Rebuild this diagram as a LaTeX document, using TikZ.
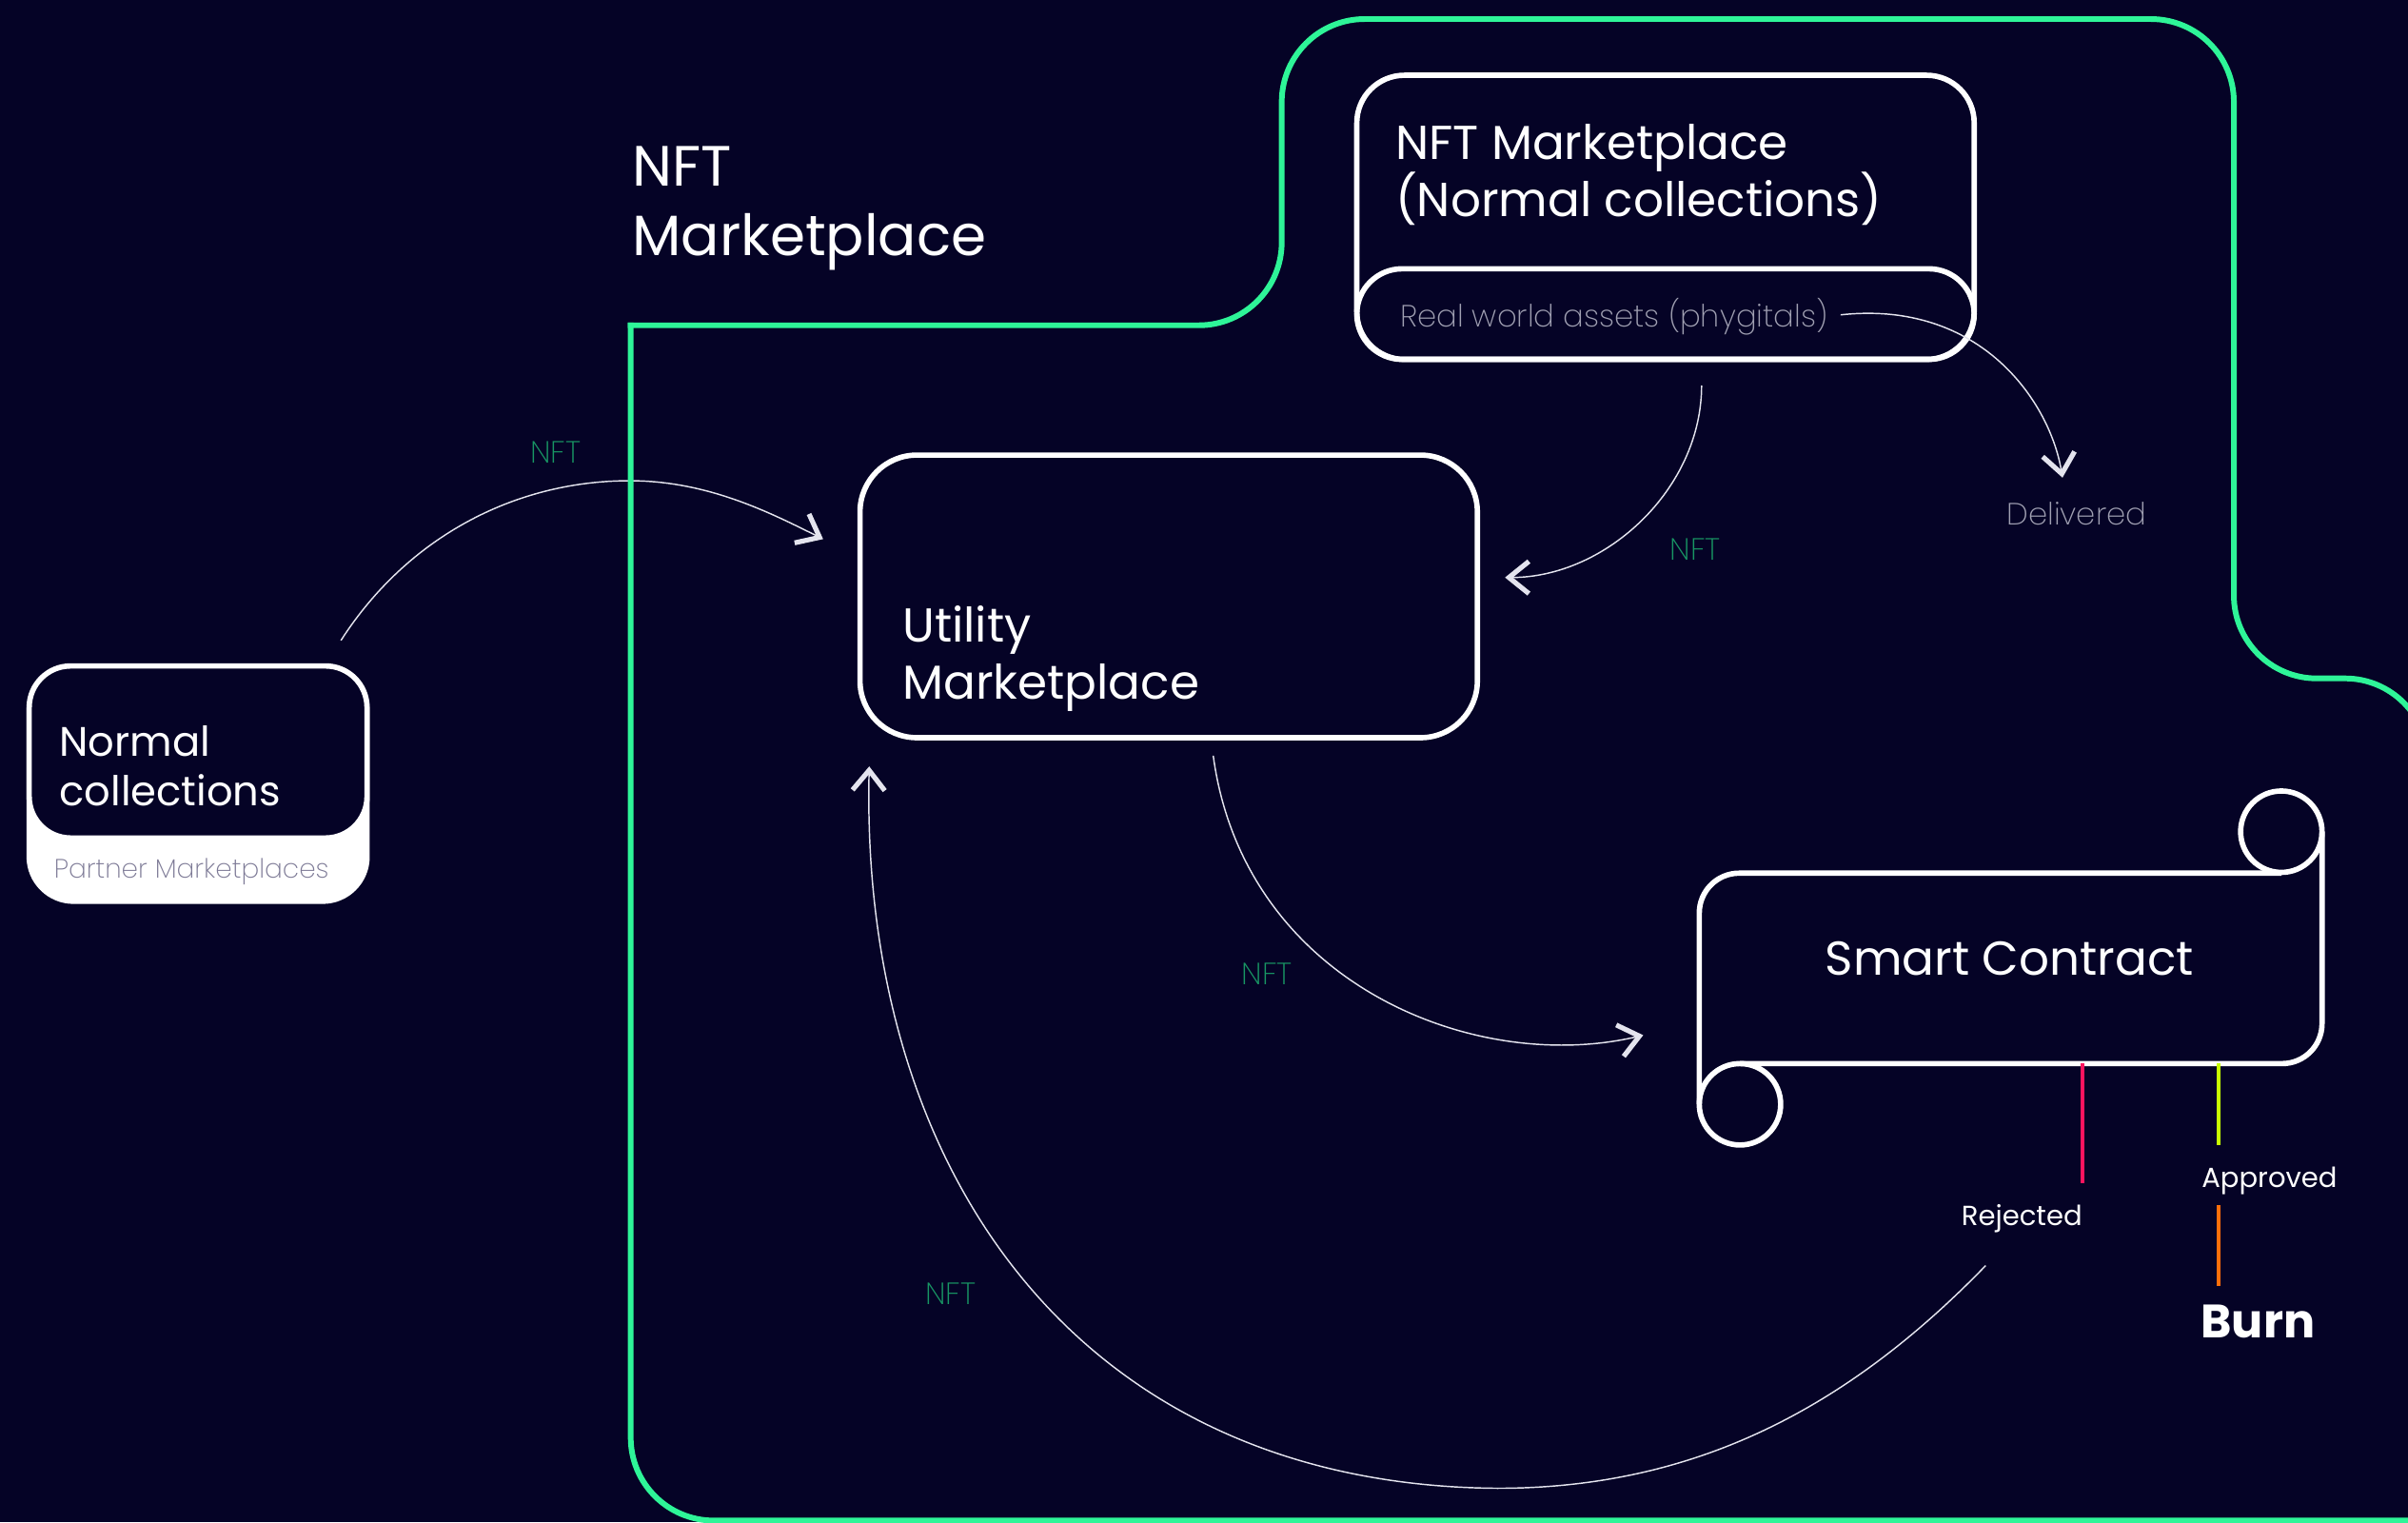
\documentclass[tikz,border=0pt]{standalone}
\usepackage{fontspec}
\setmainfont{Poppins}
\IfFontExistsTF{Poppins ExtraLight}{\newfontfamily\plight{Poppins ExtraLight}}{%
  \IfFontExistsTF{Poppins Light}{\newfontfamily\plight{Poppins Light}}{\newfontfamily\plight{Poppins}}}
\usetikzlibrary{arrows.meta}
\definecolor{bg}{RGB}{5,3,38}
\definecolor{mint}{RGB}{46,245,152}
\definecolor{labgreen}{RGB}{24,150,100}
\definecolor{softgray}{RGB}{160,160,178}
\definecolor{pmgray}{RGB}{125,122,150}
\definecolor{linecol}{RGB}{228,228,238}
\definecolor{rejred}{RGB}{255,20,95}
\definecolor{applime}{RGB}{200,255,0}
\definecolor{burnorange}{RGB}{255,110,10}
\begin{document}
\begin{tikzpicture}[x=1pt,y=-1pt,
  box/.style={draw=white, line width=3.5pt, rounded corners=#1, inner sep=0pt},
  scrollline/.style={draw=white, line width=3.5pt},
  bigtext/.style={text=white, inner sep=0pt, anchor=base west, font=\fontsize{31}{37}\selectfont},
  titletext/.style={text=white, inner sep=0pt, anchor=base west, font=\fontsize{37}{45}\selectfont},
  midtext/.style={text=white, inner sep=0pt, anchor=base west, font=\fontsize{26.8}{32}\selectfont},
  lighttext/.style={inner sep=0pt, font=\plight\fontsize{20}{24}\selectfont},
  nftlabel/.style={lighttext, text=labgreen, anchor=base},
  smalltext/.style={text=white, inner sep=0pt, font=\fontsize{18}{22}\selectfont},
  conn/.style={draw=linecol, line width=0.9pt,
    -{Straight Barb[length=13pt,width=21pt,line width=3.2pt]}},
  statusline/.style={line width=2.6pt},
  region/.style={draw=mint, line width=3.7pt, rounded corners=54, line cap=rect}
]
\useasboundingbox (0,0) rectangle (1568,991);
\fill[bg] (0,0) rectangle (1568,991);
\clip (0,0) rectangle (1568,991);

% ---- boxes ----
\node[box=29, fill=white, minimum width=220, minimum height=153] (ncouter) at (129,510.3) {};
\node[box=27, fill=bg, minimum width=220, minimum height=112] (nc) at (129,489.6) {};

\node[box=31, minimum width=402, minimum height=185] (nftm) at (1084.5,141.5) {};
\node[box=29.5, minimum width=402, minimum height=59] (rwabox) at (1084.5,204.5) {};

\node[box=37, minimum width=402, minimum height=184] (util) at (761,388.3) {};

% ---- smart contract scroll ----
\draw[scrollline, rounded corners=26] (1106.5,719) -- (1106.5,568.5) -- (1485.5,568.5);
\draw[scrollline, rounded corners=26] (1512,541.5) -- (1512,692.5) -- (1133,692.5);
\draw[scrollline] (1485.5,541.5) circle[radius=26.5];
\draw[scrollline] (1133,719) circle[radius=26.5];

% ---- texts ----
\node[titletext] (t1) at (411.5,121) {NFT};
\node[titletext] (t2) at (411.5,166.3) {Marketplace};

\node[bigtext] (nm1) at (908.5,103.6) {NFT Marketplace};
\node[bigtext] (nm2) at (908.5,141.2) {(Normal collections)};
\node[lighttext, text=softgray, anchor=base west] (rwa) at (911.5,212.7) {Real world assets (phygitals)};
\node[lighttext, text=softgray, anchor=base west] (del) at (1306.5,342) {Delivered};

\node[bigtext] (u1) at (587.5,418) {Utility};
\node[bigtext] (u2) at (587.5,455) {Marketplace};

\node[midtext] (nc1) at (38.5,492.7) {Normal};
\node[midtext] (nc2) at (38.5,524.7) {collections};
\node[inner sep=0pt, anchor=base west, text=pmgray, font=\plight\fontsize{17.3}{21}\selectfont] (pm) at (35,571.8) {Partner Marketplaces};

\node[text=white, inner sep=0pt, anchor=base, font=\fontsize{31}{37}\selectfont] (sc) at (1308.5,635.2) {Smart Contract};
\node[smalltext, anchor=base east] (rej) at (1356,798) {Rejected};
\node[smalltext, anchor=base west] (app) at (1433.5,773) {Approved};
\node[text=white, inner sep=0pt, anchor=base west, font=\bfseries\fontsize{30.5}{36}\selectfont] (burn) at (1433,871) {Burn};

\node[nftlabel] (l1) at (361.8,301.6) {NFT};
\node[nftlabel] (l2) at (1104,364.6) {NFT};
\node[nftlabel] (l3) at (825,641) {NFT};
\node[nftlabel] (l4) at (619,849.5) {NFT};

% ---- status lines ----
\coordinate (rejtop) at (1356,692.5);
\coordinate (rejbot) at (1356,770.5);
\coordinate (apptop) at (1444.7,692.5);
\coordinate (appbot) at (1444.7,745.5);
\coordinate (burntop) at (1444.7,784.7);
\coordinate (burnbot) at (1444.7,837);
\draw[statusline, draw=rejred] (rejtop) -- (rejbot);
\draw[statusline, draw=applime] (apptop) -- (appbot);
\draw[statusline, draw=burnorange] (burntop) -- (burnbot);

% ---- connectors ----
\coordinate (c1s) at (222,417);
\coordinate (c1e) at (536,351);
\coordinate (c2s) at (1198.5,205);
\coordinate (c2e) at (1343,311);
\coordinate (c3s) at (1108,251);
\coordinate (c3e) at (980,376);
\coordinate (c4s) at (790,492);
\coordinate (c4e) at (1070,674);
\coordinate (c5s) at (1293,824);
\coordinate (c5e) at (566,499);

\draw[conn] (c1s) .. controls (265,350) and (335,313) .. (410,313)
            .. controls (460,313) and (500,333) .. (c1e);
\draw[conn] (c2s) .. controls (1290,195) and (1335,262) .. (c2e);
\draw[conn] (c3s) .. controls (1108,318) and (1046,376) .. (c3e);
\draw[conn] (c4s) .. controls (810,640) and (960,700) .. (c4e);
\draw[conn] (c5s) .. controls (1200,920) and (1100,969) .. (975,969)
            .. controls (700,967) and (560,760) .. (c5e);

% ---- green region outline (sharp corner at its top left) ----
\coordinate (gcorner) at (410.7,211.8);
\draw[region]
  (1581,1100) -- (1581,441.7) -- (1454.6,441.7) -- (1454.6,12.4)
  -- (834.6,12.4) -- (834.6,211.8) -- (gcorner);
\draw[region] (gcorner) -- (410.7,990) -- (1700,990);
\end{tikzpicture}
\end{document}
